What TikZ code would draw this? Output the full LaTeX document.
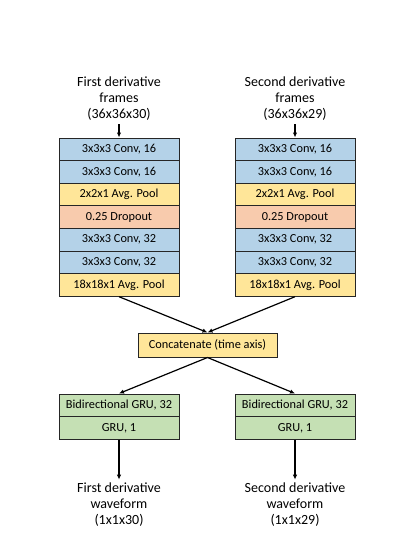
\documentclass[tikz,border=0pt]{standalone}
\usepackage{fontspec}
\setmainfont{Carlito}
\usetikzlibrary{arrows.meta}

\definecolor{convblue}{HTML}{B4D2E8}
\definecolor{poolyellow}{HTML}{FFE699}
\definecolor{dropred}{HTML}{F8CBAD}
\definecolor{grugreen}{HTML}{C5E0B4}

\tikzset{
	layer/.style={draw=black!85, line width=1pt, minimum width=120pt, minimum height=22.6pt, inner sep=0pt, font=\fontsize{12.3}{13}\selectfont},
	label/.style={align=center, font=\fontsize{14}{16}\selectfont},
	link/.style={line width=1.2pt, -{Latex[length=5pt,width=4.5pt]}}
}

\begin{document}
\begin{tikzpicture}[x=1pt, y=-1pt]
	\useasboundingbox (0,0) rectangle (415,554);

	% inputs
	\node[label] (in1) at (119,99) {First derivative\\frames\\(36x36x30)};
	\node[label] (in2) at (295,99) {Second derivative\\frames\\(36x36x29)};

	% left branch
	\node[layer, fill=convblue]   (a1) at (119,149.3) {3x3x3 Conv, 16};
	\node[layer, fill=convblue]   (a2) at (119,171.9) {3x3x3 Conv, 16};
	\node[layer, fill=poolyellow] (a3) at (119,194.5) {2x2x1 Avg. Pool};
	\node[layer, fill=dropred]    (a4) at (119,217.1) {0.25 Dropout};
	\node[layer, fill=convblue]   (a5) at (119,239.7) {3x3x3 Conv, 32};
	\node[layer, fill=convblue]   (a6) at (119,262.3) {3x3x3 Conv, 32};
	\node[layer, fill=poolyellow] (a7) at (119,284.9) {18x18x1 Avg. Pool};

	% right branch
	\node[layer, fill=convblue]   (b1) at (295,149.3) {3x3x3 Conv, 16};
	\node[layer, fill=convblue]   (b2) at (295,171.9) {3x3x3 Conv, 16};
	\node[layer, fill=poolyellow] (b3) at (295,194.5) {2x2x1 Avg. Pool};
	\node[layer, fill=dropred]    (b4) at (295,217.1) {0.25 Dropout};
	\node[layer, fill=convblue]   (b5) at (295,239.7) {3x3x3 Conv, 32};
	\node[layer, fill=convblue]   (b6) at (295,262.3) {3x3x3 Conv, 32};
	\node[layer, fill=poolyellow] (b7) at (295,284.9) {18x18x1 Avg. Pool};

	% merge
	\node[layer, fill=poolyellow, minimum width=139pt, minimum height=24pt] (cat) at (207.5,345) {Concatenate (time axis)};

	% recurrent heads
	\node[layer, fill=grugreen] (g1) at (119,405.3) {Bidirectional GRU, 32};
	\node[layer, fill=grugreen] (g2) at (119,427.9) {GRU, 1};
	\node[layer, fill=grugreen] (h1) at (295,405.3) {Bidirectional GRU, 32};
	\node[layer, fill=grugreen] (h2) at (295,427.9) {GRU, 1};

	% outputs
	\node[label] (out1) at (119,505) {First derivative\\waveform\\(1x1x30)};
	\node[label] (out2) at (295,505) {Second derivative\\waveform\\(1x1x29)};

	\draw[link] (in1) -- (a1);
	\draw[link] (in2) -- (b1);
	\draw[link] (a7.south) -- (cat.north);
	\draw[link] (b7.south) -- (cat.north);
	\draw[link] (cat.south) -- (g1.north);
	\draw[link] (cat.south) -- (h1.north);
	\draw[link] (g2.south) -- (out1.north);
	\draw[link] (h2.south) -- (out2.north);
\end{tikzpicture}
\end{document}
